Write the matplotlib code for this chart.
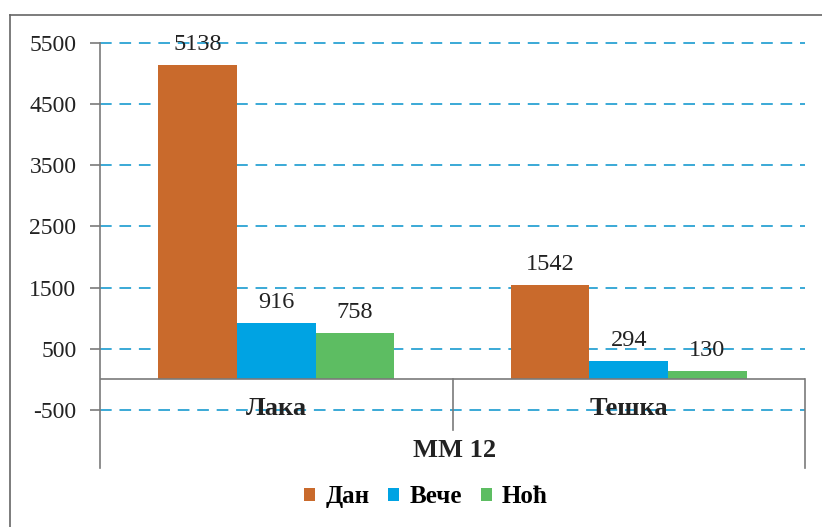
import matplotlib.pyplot as plt
from matplotlib.lines import Line2D
import numpy as np

# data
categories = ['Лака', 'Тешка']
series_names = ['Дан', 'Вече', 'Ноћ']
dan = [5138, 1542]
vece = [916, 294]
noc = [758, 130]
group_label = 'ММ 12'
yticks = [5500, 4500, 3500, 2500, 1500, 500, -500]

colors = ['#c96a2c', '#00a3e3', '#5dbd62']
grid_color = '#3aa9d6'
axis_color = '#7a7a7a'

plt.rcParams['font.family'] = ['Liberation Serif', 'DejaVu Serif']

fig = plt.figure(figsize=(8.22, 5.27), dpi=100)
ax = fig.add_axes([100 / 822, 1 - 468 / 527, 705 / 822, 425 / 527])

x = np.arange(len(categories))
w = 0.223
for i, (vals, name) in enumerate(zip([dan, vece, noc], series_names)):
    xs = x + (i - 1) * w
    ax.bar(xs, vals, width=w, color=colors[i], label=name, zorder=3)
    for xi, v in zip(xs, vals):
        ax.annotate(str(v), (xi, v), xytext=(0, 15), textcoords='offset points',
                    ha='center', va='center', fontsize=17.5, color='#222222', zorder=4)

ax.set_xlim(-0.5, 1.5)
ax.set_ylim(-1450, 5500)
ax.set_yticks(yticks)
ax.set_yticklabels([str(t) for t in yticks], fontsize=17, color='#222222')
ax.set_xticks([])
for t in yticks:
    ax.axhline(t, color=grid_color, lw=1.4, dashes=(6, 4), zorder=1, clip_on=False)

for s in ['top', 'right', 'bottom']:
    ax.spines[s].set_visible(False)
ax.spines['left'].set_color(axis_color)
ax.spines['left'].set_linewidth(1.2)
ax.tick_params(axis='y', length=7, color=axis_color, width=1.2, pad=10)

# category axis
ax.axhline(0, color=axis_color, lw=1.2, zorder=3)
ax.plot([0.5, 0.5], [0, -833], color=axis_color, lw=1.2, zorder=3)
ax.plot([1.5, 1.5], [0, -1450], color=axis_color, lw=1.2, zorder=3, clip_on=False)
for xi, c in zip(x, categories):
    ax.text(xi, -474, c, ha='center', va='center', fontsize=19, fontweight='bold',
            color='#222222', zorder=4)
ax.text(0.507, -1160, group_label, ha='center', va='center', fontsize=19,
        fontweight='bold', color='#222222')

# outer frame
fig.add_artist(Line2D([10 / 822, 10 / 822], [0, 1 - 15 / 527], color='#666666', lw=1.2))
fig.add_artist(Line2D([10 / 822, 1], [1 - 15 / 527, 1 - 15 / 527], color='#666666', lw=1.2))

leg = fig.legend(loc='center', bbox_to_anchor=(0.518, 0.057), ncol=3, frameon=False,
                 handlelength=0.45, handleheight=0.45, handletextpad=0.4, columnspacing=0.75,
                 prop={'weight': 'bold', 'size': 18})

fig.savefig('out.png', dpi=100)
